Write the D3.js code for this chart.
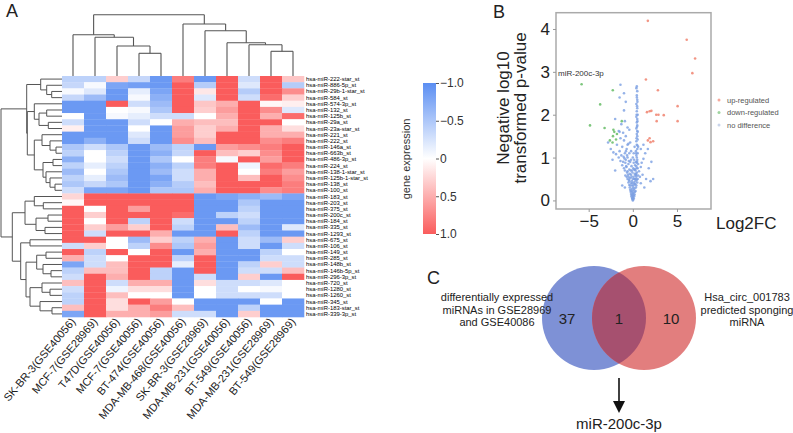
<!DOCTYPE html>
<html><head><meta charset="utf-8">
<script src="https://cdn.jsdelivr.net/npm/d3@7"></script>
<style>body{margin:0;background:#fff}svg{display:block}text{font-family:Arial,"Liberation Sans",sans-serif}</style>
</head><body><svg id="c" width="793" height="433"></svg>
<script>
// ---------------- DATA ----------------
const samples = ["SK-BR-3(GSE40056)","MCF-7(GSE28969)","T47D(GSE40056)","MCF-7(GSE40056)","BT-474(GSE40056)",
  "MDA-MB-468(GSE40056)","SK-BR-3(GSE28969)","MDA-MB-231(GSE40056)","BT-549(GSE40056)","MDA-MB-231(GSE28969)","BT-549(GSE28969)"];
const mirnas = ["hsa-miR-222-star_st","hsa-miR-886-5p_st","hsa-miR-29b-1-star_st","hsa-miR-584_st","hsa-miR-574-3p_st",
  "hsa-miR-132_st","hsa-miR-125b_st","hsa-miR-29a_st","hsa-miR-23a-star_st","hsa-miR-221_st","hsa-miR-222_st",
  "hsa-miR-146a_st","hsa-miR-663b_st","hsa-miR-486-3p_st","hsa-miR-224_st","hsa-miR-138-1-star_st","hsa-miR-125b-1-star_st",
  "hsa-miR-138_st","hsa-miR-100_st","hsa-miR-183_st","hsa-miR-203_st","hsa-miR-375_st","hsa-miR-200c_st","hsa-miR-184_st",
  "hsa-miR-335_st","hsa-miR-1293_st","hsa-miR-675_st","hsa-miR-106_st","hsa-miR-149_st","hsa-miR-285_st","hsa-miR-148b_st",
  "hsa-miR-146b-5p_st","hsa-miR-296-3p_st","hsa-miR-720_st","hsa-miR-1280_st","hsa-miR-1260_st","hsa-miR-345_st",
  "hsa-miR-183-star_st","hsa-miR-339-3p_st"];
const expr = [
 [-0.4,-0.4,0.3,-0.35,-0.9,0.8,-0.9,1,-0.3,1,0.35],
 [-0.35,-0.05,-0.8,-0.85,-0.9,1,-0.45,1,-0.2,1,-0.45],
 [-0.05,-0.2,-0.9,-0.15,-0.8,1,0.15,1,-0.45,1,0.7],
 [-0.35,-0.6,-0.9,-0.05,-0.7,1,-0.2,1,-0.3,0.9,0.3],
 [-0.9,-0.9,1,-0.3,-0.6,1,0.35,0.5,1,0.05,0.1],
 [-0.9,-0.9,0,-0.05,-0.5,1,0.3,0.6,1,0.7,-0.2],
 [0,-0.9,-0.05,-0.15,-0.3,-0.3,0,0.5,1,0.5,0.9],
 [-0.3,-0.9,-0.9,-0.3,0,0.5,0.4,0.4,1,1,0],
 [0.1,-0.9,-0.9,0,-0.9,0.6,0.3,0.5,1,0.5,0.2],
 [-0.9,-0.9,-0.9,-0.2,-0.9,0.6,0.3,1,1,0.5,0.5],
 [-0.9,-0.7,-0.9,-0.3,-0.9,0.7,0.4,1,1,0.7,0.8],
 [-0.5,-0.3,-0.5,-0.9,-0.6,-0.4,-0.9,0.6,0.7,0.8,1],
 [-0.4,0,-0.4,-0.9,-0.7,-0.35,1,0.4,0.3,0.7,1],
 [-0.7,0,-0.3,-0.9,-0.5,0,0.8,-0.05,1,0.6,1],
 [-0.4,-0.15,-0.4,-0.9,-0.7,-0.4,0.8,1,-0.1,0.9,0.8],
 [-0.6,0,-0.5,-0.9,-0.6,-0.3,0.5,1,0,0.8,0.6],
 [-0.4,-0.15,-0.6,-0.9,-0.8,-0.3,0.5,1,0.4,1,0.7],
 [-0.5,-0.35,-0.5,-0.9,-0.7,-0.45,0.4,1,1,1,0.8],
 [-0.3,-0.8,-0.8,-0.9,-0.5,-0.5,0.5,1,1,0.7,0.8],
 [0.25,1,1,1,1,1,-0.9,-0.8,-0.7,-0.6,-0.8],
 [0.05,1,1,1,1,1,-0.9,-0.9,-0.5,-0.9,-0.9],
 [1,0,1,0.6,1,1,-0.9,-0.9,-0.4,-0.9,-0.9],
 [1,0.3,1,1,1,0.9,-0.9,-0.4,-0.3,-0.9,-0.9],
 [1,0,1,-0.4,1,-0.3,-0.9,-0.9,-0.4,-0.9,-0.9],
 [1,0.3,0.6,0.3,1,-0.4,-0.9,0.4,-0.6,-0.9,-0.2],
 [1,-0.3,1,1,0.5,-0.9,-0.9,1,-0.4,-0.9,-0.9],
 [1,1,0,-0.6,0.3,-0.4,0.5,-0.9,-0.3,-0.6,0.3],
 [-0.3,0.3,0,-0.4,0.7,-0.5,0.6,-0.9,-0.3,-0.9,-0.3],
 [1,-0.4,1,0,1,-0.9,0.5,-0.9,-0.9,-0.4,0],
 [0.5,-0.3,0,1,1,-0.4,1,-0.9,-0.9,-0.3,-0.3],
 [-0.8,-0.3,0.4,1,1,-0.15,1,-0.9,-0.4,0.3,-0.3],
 [-0.4,0.4,0.4,1,-0.4,-0.9,1,-0.9,-0.3,-0.3,0.4],
 [-0.3,1,0.5,1,-0.4,-0.9,-0.3,-0.9,0.3,-0.9,1],
 [0.4,1,-0.3,0.5,0.5,-0.9,0.2,-0.3,-0.3,-0.2,0],
 [-0.3,1,-0.1,0.2,0.2,-0.9,0,-0.3,0,-0.05,0],
 [-0.4,1,0.4,0,0,-0.9,0,-0.3,-0.3,-0.3,0],
 [-0.4,1,0.2,1,0.6,0,-0.9,-0.9,-0.9,0,-0.9],
 [0.4,1,0.2,0.5,0.8,0.4,-0.9,-0.9,-0.4,-0.9,-0.9],
 [-0.8,1,0.5,0.5,0.6,-0.3,-0.3,-0.9,0.3,-0.9,-0.9]
];
// dendrograms: {h: merge height, c: [children]}, leaves = index
const colTree = {h:61.3,c:[
  {h:41.3,c:[0,{h:38.7,c:[1,{h:30,c:[2,{h:22.7,c:[3,4]}]}]}]},
  {h:52,c:[5,{h:45.3,c:[6,{h:33.3,c:[7,{h:31.3,c:[8,{h:24.7,c:[9,10]}]}]}]}]}
]};
const rowTree = {h:61,c:[
  {h:35.3,c:[
    {h:21.3,c:[0,{h:15.3,c:[1,{h:10.3,c:[2,3]}]}]},
    {h:34.7,c:[
      {h:27.7,c:[4,{h:23,c:[{h:15.3,c:[5,6]},{h:13.7,c:[7,8]}]}]},
      {h:27.7,c:[
        {h:20,c:[9,{h:12,c:[10,{h:6,c:[11,12]}]}]},
        {h:19,c:[{h:9,c:[13,14]},{h:16,c:[15,{h:12,c:[16,{h:7,c:[17,18]}]}]}]}
      ]}
    ]}
  ]},
  {h:49.7,c:[
    {h:37,c:[
      {h:27.7,c:[19,{h:18.7,c:[20,21]}]},
      {h:26,c:[{h:14,c:[22,23]},{h:17,c:[24,25]}]}
    ]},
    {h:41.3,c:[
      {h:32,c:[26,27]},
      {h:36,c:[
        {h:25.3,c:[{h:16,c:[28,29]},{h:19,c:[30,{h:11,c:[31,32]}]}]},
        {h:32,c:[{h:20,c:[33,{h:12,c:[34,35]}]},{h:22,c:[36,{h:10,c:[37,38]}]}]}
      ]}
    ]}
  ]}
]};
const legendTicks = [-1.0,-0.5,0,0.5,1.0];

// volcano plot points [log2FC, -log10 p]
const upPts = [[1.7,4.19],[6.1,3.75],[7.05,3.31],[6.74,2.97],[1.48,2.82],[2.84,2.57],[5.07,2.2],[1.6,2.06],[1.9,2.08],
  [2.1,2.09],[2.65,2.0],[2.9,2.0],[3.5,1.99],[2.7,1.85],[5.07,1.85],[1.7,1.4],[2.0,1.36],[2.3,1.38],[1.9,1.45]];
const downPts = [[-5.8,2.71],[-2.27,2.57],[-3.7,2.24],[-4.85,1.75],[-3.2,1.69],[-2.2,1.65],[-2.1,1.6],[-2.25,1.5],
  [-1.9,1.42],[-2.3,1.35],[-2.6,1.4],[-1.8,1.55],[-1.25,1.85]];
const noDiffPts = [
  [0,0],[0.05,0.02],[-0.05,0.03],[0.1,0.05],[-0.1,0.06],[0.02,0.08],[0.15,0.1],[-0.15,0.1],[0.2,0.14],[-0.2,0.15],
  [0.05,0.15],[-0.05,0.18],[0.25,0.2],[-0.25,0.2],[0.3,0.22],[-0.3,0.25],[0.1,0.25],[-0.12,0.27],[0.35,0.3],[-0.35,0.3],
  [0.4,0.35],[-0.4,0.36],[0.2,0.38],[-0.2,0.4],[0.5,0.42],[-0.5,0.42],[0.3,0.45],[-0.45,0.48],[0.55,0.5],[-0.6,0.5],
  [0.15,0.5],[-0.3,0.52],[0.4,0.55],[-0.7,0.55],[0.6,0.58],[-0.55,0.6],[0.35,0.6],[-0.2,0.6],[0.8,0.55],[-0.85,0.58],
  [0.45,0.65],[-0.65,0.65],[0.7,0.68],[-0.9,0.7],[0.3,0.7],[-0.4,0.72],[0.55,0.75],[-1.0,0.75],[0.9,0.78],[-0.75,0.8],
  [0.4,0.8],[-1.2,0.82],[0.6,0.85],[-0.5,0.85],[1.0,0.88],[-1.1,0.9],[0.35,0.9],[-1.4,0.92],[0.5,0.95],[-0.8,0.95],
  [1.2,0.97],[-1.6,1.0],[0.45,1.0],[-0.6,1.0],
  [0.4,1.05],[-1.3,1.05],[-1.9,1.08],[0.55,1.1],[-0.9,1.1],[-2.2,1.12],[0.35,1.15],[-1.5,1.15],[0.5,1.2],[-0.7,1.2],
  [-2.5,1.2],[0.6,1.25],[-1.2,1.25],[-1.8,1.3],[0.45,1.3],[-0.5,1.32],[0.4,1.38],[-1.0,1.4],[-2.8,1.35],[0.55,1.42],
  [-1.4,1.45],[0.5,1.5],[-0.8,1.5],[1.4,1.1],[1.2,1.3],[0.9,1.2],[-0.3,1.35],[0.2,1.25],
  [0.45,1.55],[-1.1,1.58],[0.55,1.6],[-1.6,1.62],[0.4,1.68],[-0.6,1.7],[0.5,1.75],[-1.3,1.78],[0.45,1.82],[-0.9,1.85],
  [0.5,1.9],[-2.0,1.9],[0.4,1.95],[0.55,2.0],[-1.5,1.6],[-0.4,1.65],
  [0.45,2.08],[-1.0,2.1],[0.5,2.15],[0.4,2.25],[-0.8,2.3],[0.5,2.35],[-1.5,2.4],[0.45,2.45],[-1.0,2.5],[0.5,2.55],
  [0.4,2.62],[-1.4,2.7],[0.45,2.66],
  [1.5,0.5],[2.0,0.45],[1.8,0.75],[-2.0,0.7],[1.3,0.3],[-1.2,0.35],[2.1,0.9],[1.7,1.2],[-2.3,0.95],[0.9,0.4],
  [-0.9,0.3],[1.1,0.6],[2.3,0.5],
  [0.05,0.3],[-0.08,0.35],[0.12,0.42],[-0.1,0.45],[0.25,0.5],[0.08,0.55],[-0.15,0.55],[0.2,0.62],[-0.05,0.65],
  [0.15,0.72],[-0.25,0.7],[0.25,0.82],[-0.15,0.8],[0.1,0.88],[-0.3,0.9],[0.3,0.58],[0.45,0.48],[-0.35,0.62],
  [-0.1,0.12],[-0.18,0.22],[-0.28,0.35],[-0.38,0.45],[-0.48,0.55],[-0.6,0.68],[-0.72,0.78],[-0.85,0.88],[-0.95,0.98],
  [-1.05,1.02],[0.08,0.18],[0.18,0.28],[0.28,0.38],[0.33,0.5],[0.38,0.62],[0.42,0.75],[0.42,0.88],[0.48,0.9],
  [0.38,1.1],[0.52,1.28],[0.42,1.45],[0.5,1.62],[0.47,1.72],[0.52,1.85],[0.43,2.0],[0.48,2.2],[0.52,2.3],[0.46,2.4],
  [-0.05,0.4],[0,0.5],[-0.1,0.7],[0.05,0.75],[-0.2,0.95],[0,1.0],[-0.4,1.1],[-0.2,1.15],[-0.6,1.3],[0.1,1.1],
  [0.15,0.95],[-0.02,0.22],[0.02,0.12],[-0.02,0.05],[0.06,0.35],[0.22,0.72],[-0.45,0.92],[-0.65,1.05],[-0.78,1.15]
];
const volcanoXTicks = [-5,0,5];
const volcanoYTicks = [0,1,2,3,4];
const volcanoLegend = ["up-regulated","down-regulated","no difference"];
const annotLabel = "miR-200c-3p";

// Venn
const vennCounts = [37,1,10];
const vennLeftLabel = ["differentially expressed","miRNAs in GSE28969","and GSE40086"];
const vennRightLabel = ["Hsa_circ_001783","predicted sponging","miRNA"];
const vennResult = "miR-200c-3p";

// ---------------- DRAW ----------------
const svg = d3.select("#c");
svg.append("rect").attr("width",793).attr("height",433).attr("fill","#fff");

// ===== Panel A: heatmap =====
const hx = d3.scaleBand().domain(d3.range(samples.length)).range([62,304]);
const hy = d3.scaleBand().domain(d3.range(mirnas.length)).range([76,317]);
const color = d3.scaleLinear().domain([-1,0,1]).range(["#5b8ef2","#ffffff","#fa5c5c"]);

const gH = svg.append("g");
expr.forEach((row,i)=>row.forEach((v,j)=>{
  gH.append("rect").attr("x",hx(j)).attr("y",hy(i))
    .attr("width",hx.bandwidth()+0.3).attr("height",hy.bandwidth()+0.3)
    .attr("fill",color(v));
}));

// row labels
gH.selectAll("text.rl").data(mirnas).join("text")
  .attr("x",306).attr("y",(d,i)=>hy(i)+hy.bandwidth()/2+2)
  .attr("font-family","'DejaVu Sans Mono','Liberation Mono',monospace")
  .attr("font-size",5.9).attr("fill","#000").text(d=>d);

// column labels
gH.selectAll("text.cl").data(samples).join("text")
  .attr("transform",(d,i)=>`translate(${hx(i)+hx.bandwidth()/2+3},${322}) rotate(-50)`)
  .attr("text-anchor","end").attr("font-size",11).attr("fill","#222").text(d=>d);

// dendrogram layout
function layout(node, pos, hs, segs){
  if(typeof node==="number") return {p:pos(node), h:0};
  const kids = node.c.map(k=>layout(k,pos,hs,segs));
  const p = (kids[0].p + kids[kids.length-1].p)/2;
  segs.push({type:"bar", h:node.h, p0:kids[0].p, p1:kids[kids.length-1].p});
  kids.forEach(k=>segs.push({type:"arm", h0:node.h, h1:k.h, p:k.p}));
  return {p, h:node.h};
}
// column dendrogram (heights map to y)
{
  const segs=[]; 
  const ys = d3.scaleLinear().domain([0,61.3]).range([76,14.7]);
  layout(colTree, i=>hx(i)+hx.bandwidth()/2, ys, segs);
  const g = svg.append("g").attr("stroke","#555").attr("stroke-width",1.1).attr("fill","none");
  segs.forEach(s=>{
    if(s.type==="bar") g.append("line").attr("x1",s.p0).attr("x2",s.p1).attr("y1",ys(s.h)).attr("y2",ys(s.h));
    else g.append("line").attr("x1",s.p).attr("x2",s.p).attr("y1",ys(s.h0)).attr("y2",ys(s.h1));
  });
}
// row dendrogram (heights map to x)
{
  const segs=[];
  const xs = d3.scaleLinear().domain([0,61]).range([62,1]);
  layout(rowTree, i=>hy(i)+hy.bandwidth()/2, xs, segs);
  const g = svg.append("g").attr("stroke","#555").attr("stroke-width",1).attr("fill","none");
  segs.forEach(s=>{
    if(s.type==="bar") g.append("line").attr("y1",s.p0).attr("y2",s.p1).attr("x1",xs(s.h)).attr("x2",xs(s.h));
    else g.append("line").attr("y1",s.p).attr("y2",s.p).attr("x1",xs(s.h0)).attr("x2",xs(s.h1));
  });
}

// color legend
{
  const ly = d3.scaleLinear().domain([-1,1]).range([83,234]);
  const defs = svg.append("defs");
  const grad = defs.append("linearGradient").attr("id","lg").attr("x1",0).attr("x2",0).attr("y1",0).attr("y2",1);
  [-1,-0.5,0,0.5,1].forEach(v=>grad.append("stop").attr("offset",(v+1)/2).attr("stop-color",color(v)));
  svg.append("rect").attr("x",423).attr("y",83).attr("width",13).attr("height",151).attr("fill","url(#lg)");
  const ax = svg.append("g").attr("transform","translate(436,0)")
    .call(d3.axisRight(ly).tickValues(legendTicks).tickSize(3).tickFormat(d=>d===0?"0":d3.format(".1f")(d)));
  ax.select(".domain").remove();
  ax.selectAll("line").attr("stroke","#555");
  ax.selectAll("text").attr("font-size",12).attr("fill","#333").attr("font-family","Arial,'Liberation Sans',sans-serif").attr("x",4);
  svg.append("text").attr("transform","translate(410,159) rotate(-90)").attr("text-anchor","middle")
    .attr("font-size",11).attr("fill","#333").text("gene expression");
}

// panel labels
svg.append("text").attr("x",6).attr("y",17).attr("font-size",18).attr("fill","#222").text("A");
svg.append("text").attr("x",493).attr("y",18).attr("font-size",18).attr("fill","#222").text("B");
svg.append("text").attr("x",427).attr("y",284).attr("font-size",18).attr("fill","#222").text("C");

// ===== Panel B: volcano =====
{
  const vx = d3.scaleLinear().domain([-8.7,8.85]).range([556,711]);
  const vy = d3.scaleLinear().domain([-0.2,4.38]).range([209,12.7]);
  const g = svg.append("g");
  g.selectAll("circle.n").data(noDiffPts).join("circle")
    .attr("cx",d=>vx(d[0])).attr("cy",d=>vy(d[1])).attr("r",1.3)
    .attr("fill","#7a9fe2").attr("fill-opacity",0.8);
  g.selectAll("circle.d").data(downPts).join("circle")
    .attr("cx",d=>vx(d[0])).attr("cy",d=>vy(d[1])).attr("r",1.3)
    .attr("fill","#5cb85c").attr("fill-opacity",0.8);
  g.selectAll("circle.u").data(upPts).join("circle")
    .attr("cx",d=>vx(d[0])).attr("cy",d=>vy(d[1])).attr("r",1.3)
    .attr("fill","#f0826f").attr("fill-opacity",0.85);
  g.append("rect").attr("x",556).attr("y",12.7).attr("width",155).attr("height",196.3)
    .attr("fill","none").attr("stroke","#aaa").attr("stroke-width",1.5);
  const ay = g.append("g").attr("transform","translate(556,0)")
    .call(d3.axisLeft(vy).tickValues(volcanoYTicks).tickSize(3).tickSizeOuter(0).tickFormat(d3.format("d")));
  ay.select(".domain").remove();
  ay.selectAll("line").attr("stroke","#999");
  ay.selectAll("text").attr("font-size",17).attr("fill","#222").attr("font-family","Arial,'Liberation Sans',sans-serif");
  const axx = g.append("g").attr("transform","translate(0,209)")
    .call(d3.axisBottom(vx).tickValues(volcanoXTicks).tickSize(3).tickSizeOuter(0).tickFormat(d3.format("d")));
  axx.select(".domain").remove();
  axx.selectAll("line").attr("stroke","#999");
  axx.selectAll("text").attr("font-size",17).attr("fill","#222").attr("font-family","Arial,'Liberation Sans',sans-serif");
  g.append("text").attr("x",716).attr("y",229).attr("font-size",17).attr("fill","#222").text("Log2FC");
  g.append("text").attr("transform","translate(509,108) rotate(-90)").attr("text-anchor","middle")
    .attr("font-size",17).attr("fill","#222").text("Negative log10");
  g.append("text").attr("transform","translate(526,108) rotate(-90)").attr("text-anchor","middle")
    .attr("font-size",17).attr("fill","#222").text("transformed p-value");
  g.append("text").attr("x",558).attr("y",75.5).attr("font-size",8).attr("fill","#333").text(annotLabel);
  const lc = ["#f5a99c","#9fd49f","#c9d4ea"];
  volcanoLegend.forEach((t,i)=>{
    g.append("circle").attr("cx",719).attr("cy",100+i*12.5).attr("r",1.5).attr("fill",lc[i]);
    g.append("text").attr("x",727).attr("y",102.5+i*12.5).attr("font-size",7.5).attr("fill","#555").text(t);
  });
}

// ===== Panel C: Venn =====
{
  const r = 52, cy = 318, cxL = 594, cxR = 644;
  const defs = svg.select("defs");
  defs.append("clipPath").attr("id","clipL").append("circle").attr("cx",cxL).attr("cy",cy).attr("r",r);
  svg.append("circle").attr("cx",cxL).attr("cy",cy).attr("r",r).attr("fill","#7e91d6");
  svg.append("circle").attr("cx",cxR).attr("cy",cy).attr("r",r).attr("fill","#e27e7e");
  svg.append("circle").attr("cx",cxR).attr("cy",cy).attr("r",r).attr("fill","#a6506f").attr("clip-path","url(#clipL)");
  const pos = [ (cxL - r + (cxR - r))/2, (cxL + cxR)/2, (cxL + r + (cxR + r))/2 ];
  vennCounts.forEach((c,i)=>svg.append("text").attr("x",pos[i]).attr("y",324).attr("text-anchor","middle")
    .attr("font-size",15).attr("fill","#222").text(c));
  vennLeftLabel.forEach((t,i)=>svg.append("text").attr("x",497).attr("y",301+i*12.7).attr("text-anchor","middle")
    .attr("font-size",11).attr("fill","#222").text(t));
  vennRightLabel.forEach((t,i)=>svg.append("text").attr("x",747).attr("y",301+i*12.7).attr("text-anchor","middle")
    .attr("font-size",11).attr("fill","#222").text(t));
  const ax = (cxL+cxR)/2;
  svg.append("line").attr("x1",ax).attr("x2",ax).attr("y1",378).attr("y2",402).attr("stroke","#111").attr("stroke-width",1.6);
  svg.append("path").attr("d",`M${ax-6},401 L${ax+6},401 L${ax},413 Z`).attr("fill","#111");
  svg.append("text").attr("x",ax).attr("y",429).attr("text-anchor","middle").attr("font-size",15).attr("fill","#222").text(vennResult);
}
</script></body></html>
